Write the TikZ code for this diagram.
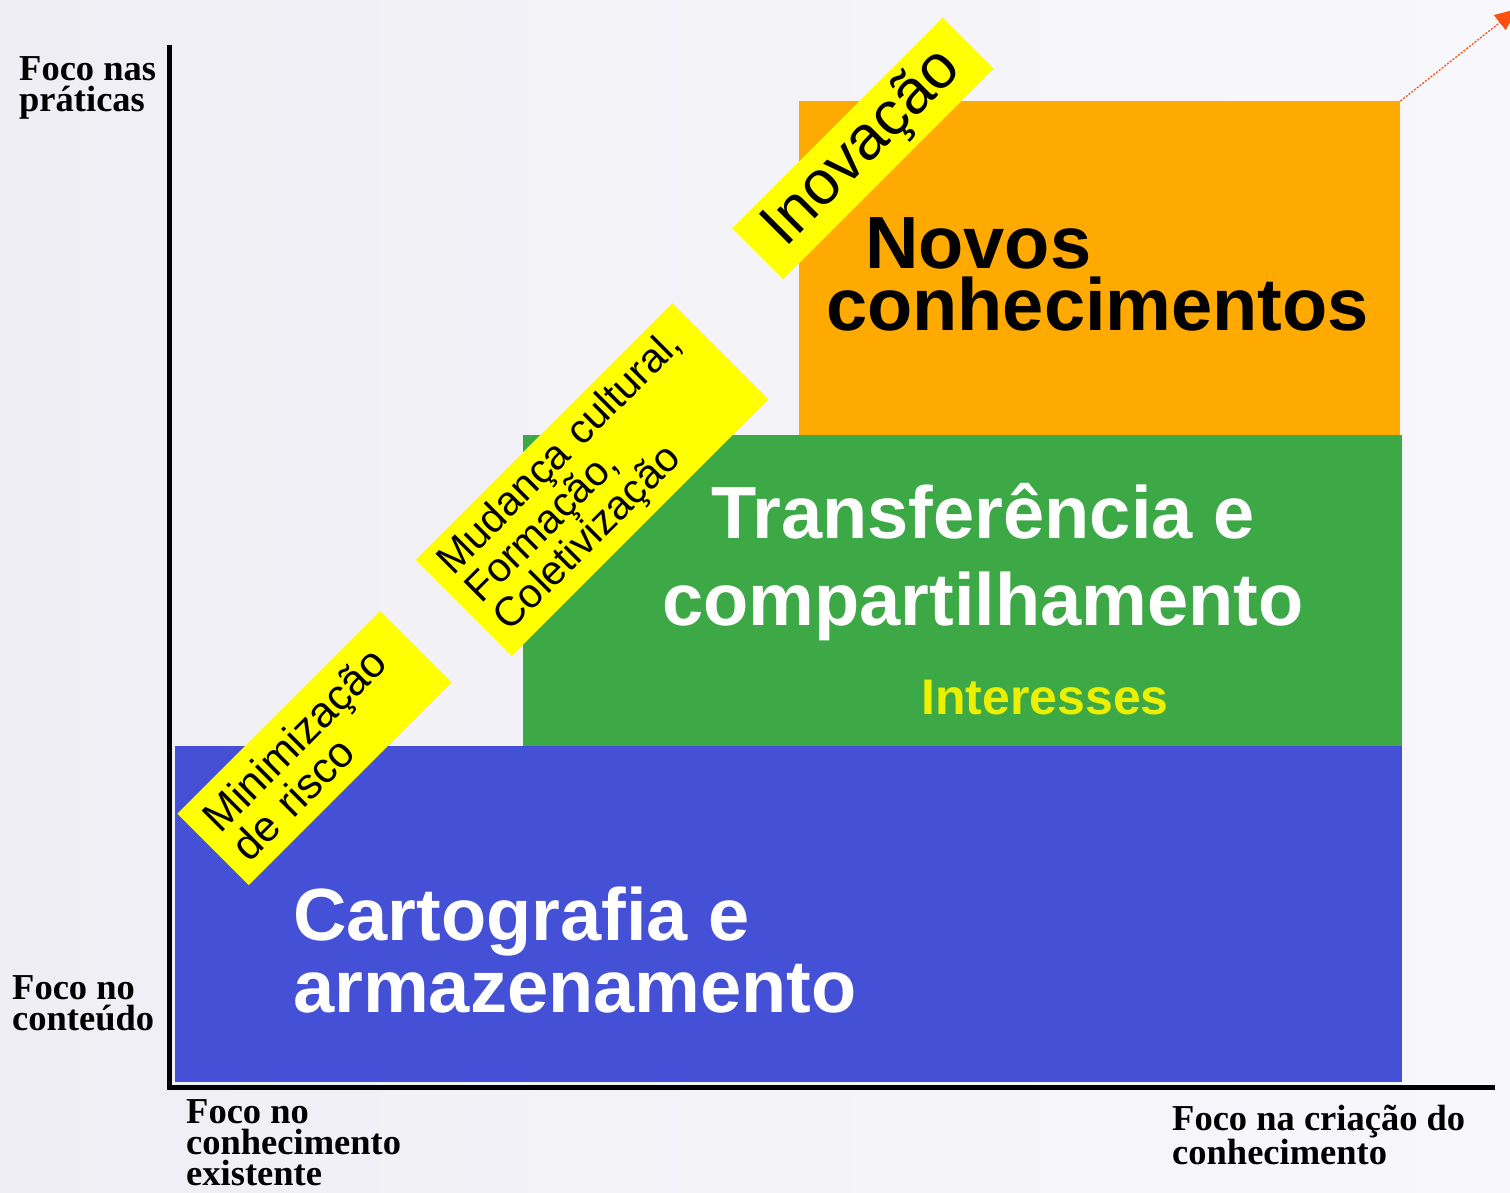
\documentclass[tikz,border=0pt]{standalone}
\usepackage{fontspec}
\setmainfont{Liberation Sans}
\newfontfamily\timesfam{Liberation Serif}
\usetikzlibrary{arrows.meta}
\definecolor{bgleft}{RGB}{238,238,244}
\definecolor{bgright}{RGB}{248,248,252}
\definecolor{boxblue}{RGB}{68,80,214}
\definecolor{boxgreen}{RGB}{61,168,70}
\definecolor{boxorange}{RGB}{255,170,0}
\definecolor{banneryellow}{RGB}{255,255,0}
\definecolor{interyellow}{RGB}{235,240,0}
\definecolor{arrowred}{RGB}{255,80,16}
\tikzset{
  area/.style={draw=none, inner sep=0pt, anchor=north west},
  banner/.style={fill=banneryellow, draw=none, rotate=45, inner ysep=0pt},
  axislabel/.style={inner sep=0pt, anchor=base west, align=left,
    font=\timesfam\bfseries\fontsize{36.5}{31}\selectfont},
  bigtext/.style={inner sep=0pt, font=\bfseries\fontsize{74}{62}\selectfont},
  axisline/.style={line width=5pt, line cap=rect},
}
\begin{document}
\begin{tikzpicture}[x=1pt,y=-1pt]
\useasboundingbox (0,0) rectangle (1510,1193);
\shade[left color=bgleft, right color=bgright] (0,0) rectangle (1510,1193);

% areas
\node[area, fill=boxblue, minimum width=1227pt, minimum height=336pt] (carto) at (175,746) {};
\node[area, fill=boxgreen, minimum width=879pt, minimum height=311pt] (transf) at (523,435) {};
\node[area, fill=boxorange, minimum width=601pt, minimum height=334pt] (novos) at (799,101) {};

% axes
\coordinate (ytop) at (169.5,48);
\coordinate (orig) at (169.5,1087);
\coordinate (xend) at (1492,1087);
\draw[axisline] (ytop) -- (orig) -- (xend);

% arrow
\coordinate (arrowtip) at (1517,9);
\draw[arrowred, line width=1.3pt, dash pattern=on 2pt off 1.5pt,
  -{Triangle[length=22pt,width=19pt]}] (novos.north east) -- (arrowtip);

% banners
\node[banner, minimum width=287pt, minimum height=101pt, text width=255pt, inner xsep=16pt,
  align=left, font=\fontsize{43}{41}\selectfont] (b1) at (314.5,748)
  {Minimização\\de risco};
\node[banner, minimum width=363pt, minimum height=136pt, text width=333pt, inner xsep=15pt,
  align=left, font=\fontsize{41}{40}\selectfont] (b2) at (592,479.5)
  {Mudança cultural,\\Formação,\\Coletivização};
\node[banner, minimum width=298pt, minimum height=72pt, align=center,
  font=\fontsize{62}{62}\selectfont] (b3) at (863,148.5) {Inovação};

% big texts
\node[bigtext, anchor=base west, align=left] (tnovos) at (826,330)
  {\hspace*{39pt}Novos\\conhecimentos};
\node[bigtext, text=white, anchor=base, align=center, font=\bfseries\fontsize{74}{87}\selectfont] (ttransf) at (983,625)
  {Transferência e\\compartilhamento};
\node[inner sep=0pt, anchor=base, text=interyellow, font=\bfseries\fontsize{50}{60}\selectfont] (tinter) at (1045,714) {Interesses};
\node[bigtext, text=white, anchor=base west, align=left, font=\bfseries\fontsize{74}{72}\selectfont] (tcarto) at (293,1012)
  {Cartografia e\\armazenamento};

% axis labels
\node[axislabel] (lyt) at (19,112) {Foco nas\\práticas};
\node[axislabel] (lyb) at (12,1030) {Foco no\\conteúdo};
\node[axislabel] (lxl) at (186,1185) {Foco no\\conhecimento\\existente};
\node[axislabel] (lxr) at (1172,1164) {Foco na criação do\\conhecimento};
\end{tikzpicture}
\end{document}
